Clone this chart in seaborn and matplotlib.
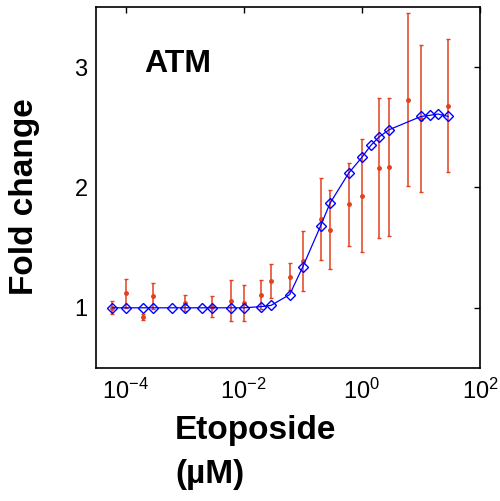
import numpy as np
import matplotlib
matplotlib.use('Agg')
import matplotlib.pyplot as plt
from matplotlib.ticker import NullLocator
import seaborn as sns

# fitted model curve (blue diamonds)
conc_fit = [6e-5, 1e-4, 2e-4, 2.9e-4, 6e-4, 1e-3, 2e-3, 2.9e-3, 6e-3, 1e-2,
            2e-2, 2.9e-2, 6e-2, 0.1, 0.2, 0.29, 0.6, 1.0, 1.42, 1.96, 2.9,
            10.0, 14.2, 19.6, 29.0]
fold_fit = [1.0, 1.0, 1.0, 1.0, 1.0, 1.0, 1.0, 1.0, 1.0, 1.0,
            1.01, 1.02, 1.11, 1.34, 1.68, 1.87, 2.12, 2.25, 2.35, 2.42, 2.48,
            2.59, 2.60, 2.61, 2.59]

# measured data (red, mean +/- error)
conc_data = [6e-5, 1e-4, 2e-4, 2.9e-4, 1e-3, 2.9e-3, 6e-3, 1e-2, 2e-2, 2.9e-2,
             6e-2, 0.1, 0.2, 0.29, 0.6, 1.0, 1.96, 2.9, 6.0, 10.0, 29.0]
fold_mean = [1.0, 1.12, 0.92, 1.10, 1.04, 1.01, 1.06, 1.04, 1.11, 1.22,
             1.26, 1.39, 1.74, 1.65, 1.86, 1.93, 2.16, 2.17, 2.73, 2.57, 2.68]
fold_err = [0.055, 0.12, 0.025, 0.11, 0.07, 0.09, 0.17, 0.15, 0.12, 0.14,
            0.11, 0.25, 0.34, 0.33, 0.345, 0.47, 0.58, 0.57, 0.72, 0.61, 0.55]

x_ticks = [1e-4, 1e-2, 1e0, 1e2]
y_ticks = [1, 2, 3]

sns.set_style('white')
plt.rcParams['font.family'] = ['Liberation Sans', 'DejaVu Sans']
plt.rcParams['mathtext.fontset'] = 'custom'
plt.rcParams['mathtext.rm'] = 'Liberation Sans'
plt.rcParams['mathtext.it'] = 'Liberation Sans:italic'
plt.rcParams['mathtext.bf'] = 'Liberation Sans:bold'
plt.rcParams['text.color'] = 'black'
plt.rcParams['axes.labelcolor'] = 'black'

fig = plt.figure(figsize=(5, 5.01), dpi=100)
ax = fig.add_axes([0.192, 0.2655, 0.768, 0.7206])

red = '#E2411E'
ax.errorbar(conc_data, fold_mean, yerr=fold_err, fmt='o', color=red,
            ms=2.5, capsize=1.5, elinewidth=1.1, capthick=1, zorder=2)

sns.lineplot(x=conc_fit, y=fold_fit, ax=ax, color='#0000FF', linewidth=0.9,
             marker='D', markersize=5.5, markerfacecolor='none',
             markeredgecolor='#0000FF', markeredgewidth=1, zorder=3)

ax.set_xscale('log')
ax.set_xlim(10 ** -4.5, 100)
ax.set_ylim(0.5, 3.5)
ax.set_xticks(x_ticks)
ax.xaxis.set_minor_locator(NullLocator())
ax.set_yticks(y_ticks)
ax.tick_params(direction='in', top=True, right=True, length=4, width=1,
               labelsize=17, colors='black', labelcolor='black')
ax.tick_params(axis='x', pad=8)
ax.tick_params(axis='y', pad=6)
for sp in ax.spines.values():
    sp.set_color('black')
    sp.set_linewidth(1.2)

ax.set_ylabel('Fold change', fontsize=24, fontweight='bold', color='black')
ax.yaxis.set_label_coords(-0.146, 0.474)
ax.set_xlabel('Etoposide\n(µM)', fontsize=24, fontweight='bold', color='black',
              ha='left', multialignment='left', linespacing=1.55)
ax.xaxis.set_label_coords((175 - 96) / 384, -0.13)

ax.text(0.125, 0.82, 'ATM', transform=ax.transAxes, fontsize=23,
        fontweight='bold', va='baseline', color='black')

fig.savefig('out.png', dpi=100)
